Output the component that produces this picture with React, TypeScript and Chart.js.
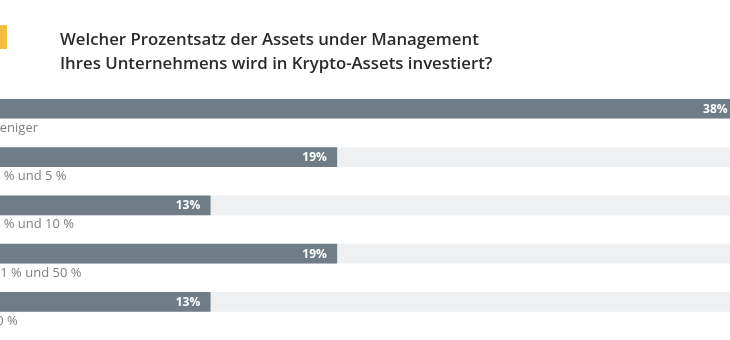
import React, { useEffect, useRef } from "react";
import { Chart, registerables } from "chart.js";

Chart.register(...registerables);

const categories = [
  "1 % oder weniger",
  "Zwischen 1 % und 5 %",
  "Zwischen 6 % und 10 %",
  "Zwischen 11 % und 50 %",
  "Mehr als 50 %",
];
const values = [38, 19, 13, 19, 13];
const valueLabels = ["38%", "19%", "13%", "19%", "13%"];
const axisMax = 38;
const titleLines = [
  "Welcher Prozentsatz der Assets under Management",
  "Ihres Unternehmens wird in Krypto-Assets investiert?",
];

const OFFSET = 80;
const CW = 822;
const CH = 340;
const BAR_COLOR = "#6e7d86";
const TRACK_COLOR = "#eff0f2";

const decorPlugin = {
  id: "decor",
  afterDatasetsDraw(chart: any) {
    const ctx = chart.ctx as CanvasRenderingContext2D;
    const xs = chart.scales.x;
    const ys = chart.scales.y;
    ctx.save();
    // yellow marker
    ctx.fillStyle = "#f2bd42";
    ctx.fillRect(OFFSET + 0, 25, 7, 24);
    // title
    ctx.fillStyle = "#2b2b2b";
    ctx.font = '600 16.8px "Open Sans", sans-serif';
    ctx.textAlign = "left";
    ctx.textBaseline = "alphabetic";
    titleLines.forEach((t, i) => ctx.fillText(t, OFFSET + 60, 45 + i * 24));
    // labels
    categories.forEach((c, i) => {
      const cy = ys.getPixelForValue(i);
      ctx.fillStyle = "#7f7f7f";
      ctx.font = '13px "Open Sans", sans-serif';
      ctx.textAlign = "left";
      ctx.textBaseline = "alphabetic";
      ctx.fillText(c, chart.chartArea.left - 3, cy + 23);
      ctx.fillStyle = "#ffffff";
      ctx.font = 'bold 12px "Open Sans", sans-serif';
      ctx.textAlign = "right";
      ctx.textBaseline = "middle";
      ctx.fillText(valueLabels[i], xs.getPixelForValue(values[i]) - 10, cy + 0.5);
    });
    ctx.restore();
  },
};

export default function App() {
  const ref = useRef<HTMLCanvasElement | null>(null);
  useEffect(() => {
    if (!ref.current) return;
    const chart = new Chart(ref.current, {
      type: "bar",
      data: {
        labels: categories,
        datasets: [
          {
            data: values,
            backgroundColor: BAR_COLOR,
            barThickness: 19,
            grouped: false,
            order: 0,
          } as any,
          {
            data: values.map(() => axisMax),
            backgroundColor: TRACK_COLOR,
            barThickness: 19,
            grouped: false,
            order: 1,
          } as any,
        ],
      },
      options: {
        indexAxis: "y",
        responsive: false,
        animation: false,
        devicePixelRatio: 1,
        layout: { padding: { left: 16, right: 4.4, top: 84.6, bottom: 13.9 } },
        scales: {
          x: { display: false, min: 0, max: axisMax },
          y: { display: false },
        },
        plugins: {
          legend: { display: false },
          tooltip: { enabled: false },
          title: { display: false },
        },
      },
      plugins: [decorPlugin],
    });
    if ((document as any).fonts) {
      (document as any).fonts.load('16px "Open Sans"').then(() => chart.update());
    }
    return () => chart.destroy();
  }, []);
  return (
    <div
      style={{
        position: "fixed",
        left: 0,
        top: 0,
        width: 730,
        height: 340,
        overflow: "hidden",
        background: "#ffffff",
      }}
    >
      <canvas
        ref={ref}
        width={CW}
        height={CH}
        style={{ position: "absolute", left: -OFFSET, top: 0, width: CW, height: CH }}
      />
    </div>
  );
}
